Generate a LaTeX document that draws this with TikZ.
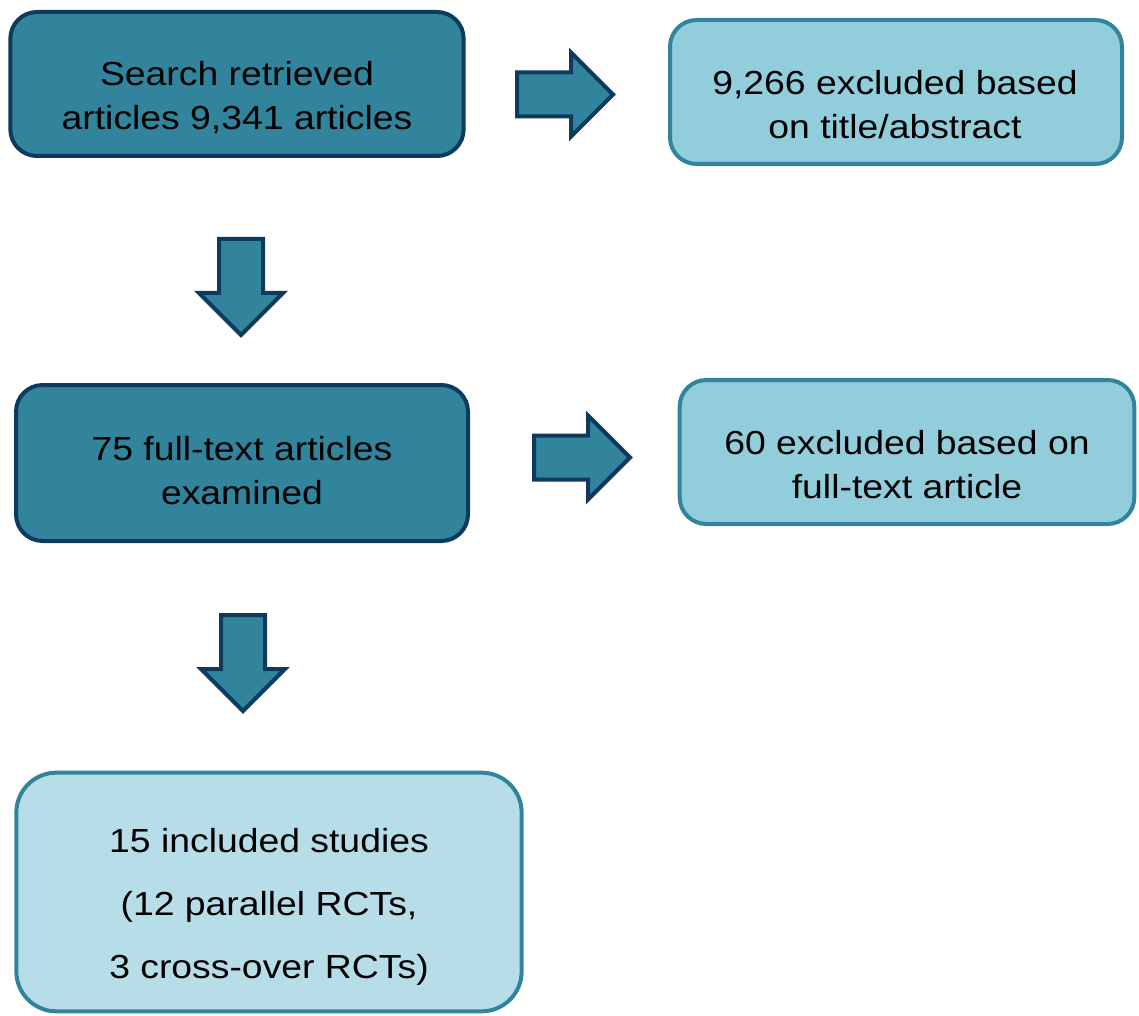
\documentclass[tikz,border=0pt]{standalone}
\usepackage{fontspec}
\setmainfont[FakeStretch=1.12]{Liberation Sans}
\usetikzlibrary{shapes.arrows, positioning}

\definecolor{tealdark}{RGB}{49,132,155}
\definecolor{navyline}{RGB}{14,58,94}
\definecolor{tealpale}{RGB}{146,205,220}
\definecolor{tealpaler}{RGB}{183,222,232}

\begin{document}
\begin{tikzpicture}[x=0.75pt, y=-0.75pt]
    \tikzset{DarkBox/.style = {draw=navyline, fill=tealdark, line width=3pt, rounded corners=20pt}}
    \tikzset{PaleBox/.style = {draw=tealdark, fill=tealpale, line width=3pt, rounded corners=20pt}}
    \tikzset{BoxText/.style = {align=center, font=\fontsize{25}{33}\selectfont}}
    \tikzset{BlockArrow/.style = {single arrow, draw=navyline, fill=tealdark, line width=3pt,
                                  inner sep=15pt, single arrow head extend=15pt,
                                  minimum height=72pt, anchor=tail}}
    \useasboundingbox (0,0) rectangle (1139,1016);

    \node[DarkBox, minimum width=340pt, minimum height=108pt](search) at (237,84){};
    \node[PaleBox, minimum width=339pt, minimum height=108pt](excl1) at (896,92){};
    \node[DarkBox, minimum width=339pt, minimum height=117pt](fulltext) at (242,463){};
    \node[PaleBox, minimum width=341pt, minimum height=108pt](excl2) at (907,452){};
    \node[PaleBox, fill=tealpaler, rounded corners=30pt,
          minimum width=379pt, minimum height=179pt](incl) at (269,892){};

    \node[BoxText](searchtext) at (237,98){Search retrieved\\articles 9,341 articles};
    \node[BoxText](excl1text) at (895,105){9,266 excluded based\\on title/abstract};
    \node[BoxText](fulltexttext) at (242,471){75 full-text articles\\examined};
    \node[BoxText](excl2text) at (907,465){60 excluded based on\\full-text article};
    \node[BoxText, font=\fontsize{25}{47}\selectfont](incltext) at (269,907)
        {15 included studies\\(12 parallel RCTs,\\3 cross-over RCTs)};

    \node[BlockArrow](arrA) at (515,94.5){};
    \node[BlockArrow, rotate=-90](arrB) at (241,237){};
    \node[BlockArrow](arrC) at (532,457.5){};
    \node[BlockArrow, rotate=-90](arrD) at (243,613){};
\end{tikzpicture}
\end{document}
